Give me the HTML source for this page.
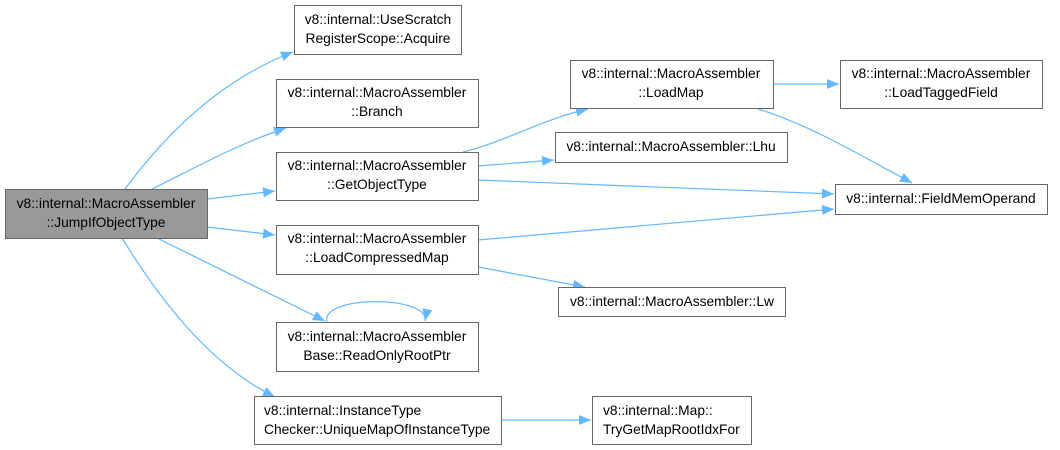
<!DOCTYPE html>
<html><head><meta charset="utf-8"><style>
body{margin:0;background:#fff;}
svg{display:block;}
text{font-family:"Liberation Sans",sans-serif;font-size:13.8px;fill:#000;}
</style></head><body>
<svg width="1060" height="450" viewBox="0 0 1060 450" xmlns="http://www.w3.org/2000/svg">
<defs><marker id="a" markerWidth="12" markerHeight="10" refX="12" refY="5" orient="auto" markerUnits="userSpaceOnUse"><path d="M0,0 L12,5 L0,10 Z" fill="#63b8ff"/></marker></defs>
<g fill="none" stroke="#63b8ff" stroke-width="1.2" marker-end="url(#a)">
<path d="M125,189 C165,135 220,80 293,52"/>
<path d="M152,189 C195,168 235,145 286,128"/>
<path d="M207,199 L275,191"/>
<path d="M207,227 L275,235"/>
<path d="M157,238 L325,321"/>
<path d="M122,238 C160,300 210,365 275,397"/>
<path d="M327,322 C320,295 430,295 425,321"/>
<path d="M463,152 C510,140 540,120 588,109"/>
<path d="M478,166 L554,160"/>
<path d="M478,180 L834,194"/>
<path d="M478,240 L834,209"/>
<path d="M478,267 L585,287"/>
<path d="M773,84 L839,84"/>
<path d="M758,109 C810,125 860,155 912,183"/>
<path d="M501,420 L591,420"/>
</g>
<g stroke="#666" stroke-width="1" fill="#fff">
<rect x="5.5" y="189.5" width="202" height="49" fill="#999"/>
<rect x="294.5" y="5.5" width="167" height="49"/>
<rect x="276.5" y="79.5" width="202" height="48"/>
<rect x="276.5" y="152.5" width="202" height="48"/>
<rect x="276.5" y="225.5" width="202" height="49"/>
<rect x="276.5" y="322.5" width="202" height="49"/>
<rect x="254.5" y="396.5" width="247" height="48"/>
<rect x="570.5" y="60.5" width="203" height="48"/>
<rect x="840.5" y="60.5" width="202" height="48"/>
<rect x="555.5" y="132.5" width="232" height="30"/>
<rect x="835.5" y="184.5" width="212" height="30"/>
<rect x="558.5" y="287.5" width="227" height="29"/>
<rect x="592.5" y="396.5" width="159" height="48"/>
</g>
<g text-anchor="middle">
<text x="106" y="208">v8::internal::MacroAssembler</text><text x="106" y="227">::JumpIfObjectType</text>
<text x="378" y="24">v8::internal::UseScratch</text><text x="378" y="43">RegisterScope::Acquire</text>
<text x="377" y="97">v8::internal::MacroAssembler</text><text x="377" y="116">::Branch</text>
<text x="377" y="170">v8::internal::MacroAssembler</text><text x="377" y="189">::GetObjectType</text>
<text x="377" y="243">v8::internal::MacroAssembler</text><text x="377" y="262">::LoadCompressedMap</text>
<text x="377" y="341">v8::internal::MacroAssembler</text><text x="377" y="360">Base::ReadOnlyRootPtr</text>
<text x="671" y="78">v8::internal::MacroAssembler</text><text x="671" y="97">::LoadMap</text>
<text x="941" y="78">v8::internal::MacroAssembler</text><text x="941" y="97">::LoadTaggedField</text>
<text x="671" y="151">v8::internal::MacroAssembler::Lhu</text>
<text x="941" y="203">v8::internal::FieldMemOperand</text>
<text x="672" y="306">v8::internal::MacroAssembler::Lw</text>
</g>
<text x="264" y="415">v8::internal::InstanceType</text><text x="264" y="434">Checker::UniqueMapOfInstanceType</text>
<text x="603" y="415">v8::internal::Map::</text><text x="603" y="434">TryGetMapRootIdxFor</text>
</svg>
</body></html>
